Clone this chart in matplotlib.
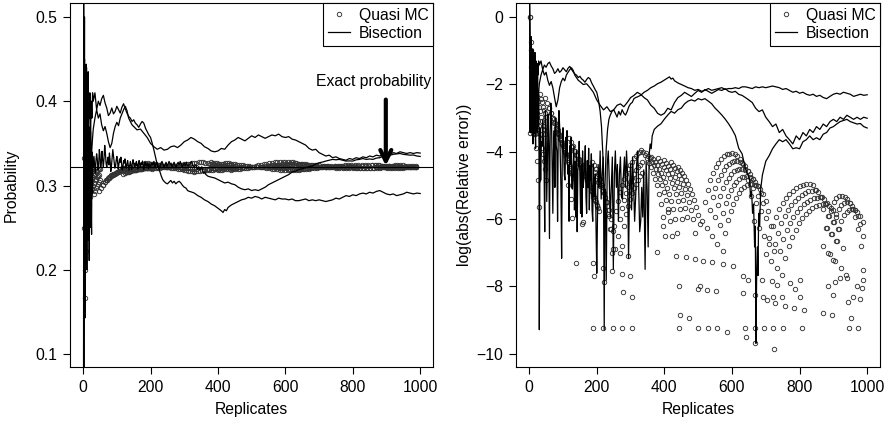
import numpy as np
import matplotlib
matplotlib.use("Agg")
import matplotlib.pyplot as plt
from matplotlib.lines import Line2D

plt.rcParams["font.family"] = ["Liberation Sans", "DejaVu Sans"]
plt.rcParams["font.size"] = 11.3

EXACT = 0.32255

# ---- bisection run A (high early, crosses down near 222, ends ~0.29)
bis_a_rep = ([1, 2, 3, 4, 5, 6, 7, 8, 9, 10, 11, 12, 13, 14, 15, 16, 17, 18,
              20, 22, 24, 26, 28, 30]
             + list(range(35, 206, 5))
             + [210, 214, 218, 220, 222, 224, 228, 232, 236, 240, 245]
             + list(range(250, 321, 5))
             + list(range(330, 411, 10))
             + [415, 420, 425, 430]
             + list(range(440, 1001, 10)))
bis_a_val = ([1.0, 0.5, 0.25, 0.45, 0.30, 0.40, 0.22, 0.43, 0.35, 0.44, 0.33, 0.42,
              0.34, 0.41, 0.435, 0.37, 0.40, 0.38, 0.41, 0.36, 0.40, 0.38, 0.41, 0.40]
             + [0.41, 0.39, 0.40, 0.395, 0.403, 0.407, 0.398, 0.392, 0.383, 0.386,
                0.392, 0.385, 0.388, 0.394, 0.39, 0.386, 0.393, 0.397, 0.391, 0.386,
                0.382, 0.38, 0.376, 0.378, 0.374, 0.372, 0.369, 0.373, 0.376, 0.374,
                0.368, 0.364, 0.36, 0.357, 0.35]
             + [0.342, 0.335, 0.328, 0.3245, 0.32258, 0.3205, 0.316, 0.311, 0.307,
                0.305, 0.303]
             + [0.302, 0.304, 0.306, 0.303, 0.305, 0.302, 0.304, 0.305, 0.303, 0.300,
                0.298, 0.297, 0.294, 0.293, 0.2925]
             + [0.291, 0.288, 0.286, 0.283, 0.281, 0.278, 0.276, 0.273, 0.27]
             + [0.268, 0.2715, 0.270, 0.274]
             + [0.277, 0.279, 0.281, 0.283, 0.284, 0.286, 0.285, 0.287, 0.286, 0.284,
                0.286, 0.285, 0.284, 0.283, 0.285, 0.284, 0.284, 0.283, 0.284, 0.282,
                0.282, 0.283, 0.284, 0.282, 0.283, 0.282, 0.283, 0.282, 0.281, 0.282,
                0.283, 0.285, 0.284, 0.286, 0.288, 0.287, 0.289, 0.288, 0.29, 0.291,
                0.29, 0.292, 0.291, 0.293, 0.294, 0.292, 0.29, 0.289, 0.29, 0.288,
                0.289, 0.29, 0.292, 0.291, 0.29, 0.291, 0.2905])

# ---- bisection run B (top line, ends ~0.338)
bis_b_rep = ([1, 2, 3, 4, 5, 6, 7, 8, 9, 10, 11, 12, 13, 14, 15, 16, 17, 18, 19, 20,
              22, 24, 26, 28, 30]
             + list(range(35, 151, 5))
             + list(range(160, 1001, 10)))
bis_b_val = ([0.0, 0.5, 0.333, 0.25, 0.4, 0.333, 0.286, 0.375, 0.333, 0.3, 0.364,
              0.333, 0.308, 0.357, 0.333, 0.3125, 0.353, 0.333, 0.316, 0.35, 0.364,
              0.333, 0.346, 0.357, 0.367]
             + [0.38, 0.39, 0.38, 0.385, 0.372, 0.365, 0.37, 0.362, 0.352, 0.345,
                0.35, 0.362, 0.37, 0.375, 0.371, 0.38, 0.385, 0.39, 0.394, 0.389,
                0.38, 0.376, 0.372, 0.37]
             + [0.366, 0.367, 0.362, 0.357, 0.350, 0.346, 0.343, 0.345, 0.342, 0.343,
                0.346, 0.347, 0.345, 0.348, 0.352, 0.354, 0.357, 0.355, 0.352, 0.35,
                0.346, 0.344, 0.341, 0.34, 0.341, 0.344, 0.343, 0.348, 0.352, 0.354,
                0.357, 0.355, 0.353, 0.356, 0.359, 0.357, 0.36, 0.358, 0.356, 0.358,
                0.36, 0.359, 0.361, 0.358, 0.357, 0.358, 0.355, 0.354, 0.352, 0.35,
                0.348, 0.344, 0.342, 0.343, 0.339, 0.337, 0.335, 0.336, 0.333, 0.334,
                0.332, 0.331, 0.33, 0.332, 0.331, 0.333, 0.332, 0.334, 0.333, 0.335,
                0.334, 0.336, 0.335, 0.337, 0.338, 0.337, 0.339, 0.338, 0.34, 0.339,
                0.338, 0.339, 0.338, 0.339, 0.3385])

# ---- bisection run C (hugs the exact value, dips below, crosses near 672)
bis_c_rep = (list(range(1, 31))
             + list(range(32, 201, 2))
             + [204, 207, 210, 213, 216, 219, 222, 225, 228, 231, 234, 237, 240, 243,
                246, 249, 252, 255, 258, 261, 264, 267, 270, 273, 276, 279, 282, 285,
                288, 291, 294, 297, 300, 303, 306, 309, 312, 315, 318, 321, 324, 327,
                330, 333, 336, 339, 343, 346, 349, 352, 355, 358, 361, 364, 367, 370]
             + list(range(380, 651, 10))
             + [652, 655, 658, 661, 664, 667, 669, 671, 673, 675, 677, 679, 682, 685, 690]
             + list(range(700, 1001, 10)))
bis_c_val = ([1.0, 0.0, 0.333, 0.5, 0.2, 0.143, 0.375, 0.25, 0.444, 0.3, 0.2, 0.385,
              0.267, 0.4, 0.3, 0.235, 0.37, 0.211, 0.35, 0.29, 0.25, 0.36, 0.3, 0.27,
              0.242, 0.34, 0.31, 0.29, 0.33, 0.32258]
             + [0.3346, 0.3251, 0.3146, 0.3296, 0.3376, 0.3311, 0.3186, 0.3231, 0.3426,
                0.3356, 0.3212, 0.3271, 0.3406, 0.3296, 0.3221, 0.3326, 0.3476, 0.3386,
                0.3266, 0.3216, 0.3286, 0.3336, 0.3246, 0.3386, 0.3296, 0.3166, 0.3233,
                0.3336, 0.3426, 0.3356, 0.3276, 0.3206, 0.3228, 0.3296, 0.3346, 0.3286,
                0.3196, 0.3251, 0.3316, 0.3276, 0.3336, 0.3256, 0.3186, 0.3218, 0.3296,
                0.3266, 0.3316, 0.3246, 0.3206, 0.3261, 0.3296, 0.3236, 0.3181, 0.3234,
                0.3286, 0.3231, 0.3191, 0.3266, 0.3306, 0.3256, 0.3216, 0.3266, 0.3234,
                0.3286, 0.3246, 0.3196, 0.3261, 0.3296, 0.3241, 0.3216, 0.3271, 0.3246,
                0.3291, 0.3236, 0.3186, 0.3251, 0.3281, 0.3236, 0.3233, 0.3266, 0.3241,
                0.3201, 0.3256, 0.3231, 0.32271]
             + [0.3266, 0.3246, 0.3286, 0.3211, 0.3256, 0.3276, 0.3236, 0.3206, 0.32268,
                0.3266, 0.3286, 0.3251, 0.3217, 0.3246, 0.3276, 0.32273, 0.3256, 0.3286,
                0.3246, 0.3266, 0.3218, 0.3256, 0.3276, 0.3241, 0.3211, 0.3256, 0.3276,
                0.3246, 0.3286, 0.3256, 0.3223, 0.3246, 0.3266, 0.3236, 0.3276, 0.3246,
                0.3233, 0.3241, 0.3266, 0.3286, 0.3246, 0.3231, 0.3218, 0.3246, 0.3234,
                0.3191, 0.32237, 0.3181, 0.3206, 0.3222, 0.3171, 0.3151, 0.3161, 0.3131,
                0.3121, 0.3111]
             + [0.3099, 0.309, 0.307, 0.305, 0.303, 0.304, 0.302, 0.301, 0.298, 0.296,
                0.295, 0.296, 0.294, 0.295, 0.294, 0.296, 0.298, 0.301, 0.303, 0.305,
                0.307, 0.309, 0.311, 0.313, 0.316, 0.317, 0.319, 0.3198]
             + [0.3200, 0.3210, 0.3207, 0.3216, 0.3213, 0.3222, 0.3219, 0.32253, 0.3224,
                0.3229, 0.3227, 0.3235, 0.3232, 0.3245, 0.3255]
             + [0.327, 0.3278, 0.329, 0.330, 0.331, 0.3305, 0.331, 0.330, 0.329, 0.3292,
                0.329, 0.3305, 0.331, 0.332, 0.331, 0.3315, 0.331, 0.3325, 0.333, 0.3345,
                0.335, 0.336, 0.337, 0.3375, 0.338, 0.337, 0.3365, 0.336, 0.3362, 0.335,
                0.3345])

# ---- quasi Monte Carlo: first 50 replicates as estimated probabilities
qmc_early_rep = list(range(1, 51))
qmc_early_prob = [0.0, 0.0, 0.333, 0.25, 0.2, 0.167, 0.286, 0.25, 0.222, 0.3,
                  0.273, 0.333, 0.308, 0.286, 0.333, 0.3125, 0.294, 0.278, 0.316, 0.3,
                  0.286, 0.318, 0.304, 0.333, 0.32, 0.308, 0.296, 0.3214, 0.31, 0.3,
                  0.29, 0.3125, 0.303, 0.294, 0.314, 0.306, 0.297, 0.316, 0.308, 0.3,
                  0.317, 0.31, 0.302, 0.318, 0.311, 0.304, 0.319, 0.3125, 0.306, 0.32]

# ---- quasi Monte Carlo later replicates: arcs of log relative error
# each arc: first replicate, replicate spacing, side of the exact value, values
qmc_arc_start = [48, 58, 68, 78,
                 118, 128, 138, 148,
                 185, 195, 205,
                 250, 262, 275,
                 330, 345, 360, 380, 400, 420, 440,
                 512, 527, 542, 557, 572,
                 700, 716, 732, 748,
                 869, 884, 899]
qmc_arc_step = [6, 6, 6, 6,
                6, 6, 6, 6,
                6, 6, 6,
                6, 6, 6,
                6, 6, 6, 6, 6, 6, 6,
                8, 8, 8, 8, 8,
                10, 10, 10, 10,
                8, 8, 8]
qmc_arc_sign = [-1, -1, -1, -1,
                -1, -1, -1, -1,
                1, 1, -1,
                -1, 1, -1,
                -1, 1, -1, 1, -1, 1, -1,
                1, -1, 1, -1, 1,
                -1, 1, -1, 1,
                -1, 1, -1]
qmc_arc_vals = [
    [-2.4, -2.55, -2.7, -2.86, -3.02, -3.18, -3.35, -3.52, -3.7, -3.88, -4.06],
    [-2.7, -2.85, -3.0, -3.16, -3.32, -3.48, -3.65, -3.82, -4.0, -4.18, -4.36],
    [-3.0, -3.15, -3.3, -3.46, -3.62, -3.78, -3.95, -4.12, -4.3, -4.48, -4.66],
    [-3.3, -3.45, -3.6, -3.76, -3.92, -4.08, -4.25, -4.42, -4.6, -4.78],
    [-3.6, -3.72, -3.84, -3.97, -4.1, -4.24, -4.38, -4.53, -4.68, -4.84, -5.0, -5.17, -5.35],
    [-3.85, -3.97, -4.09, -4.22, -4.35, -4.49, -4.63, -4.78, -4.93, -5.09, -5.25, -5.42, -5.6],
    [-4.1, -4.22, -4.34, -4.47, -4.6, -4.74, -4.88, -5.03, -5.18, -5.34, -5.5, -5.67],
    [-4.35, -4.47, -4.59, -4.72, -4.85, -4.99, -5.13, -5.28, -5.43, -5.59, -5.75],
    [-4.3, -4.4, -4.52, -4.66, -4.82, -5.0, -5.22, -5.5, -5.85, -6.3, -7.0],
    [-4.6, -4.72, -4.85, -5.0, -5.17, -5.37, -5.6, -5.9, -6.3, -6.9],
    [-4.9, -5.03, -5.17, -5.33, -5.5, -5.72, -6.0, -6.35, -6.9],
    [-6.2, -5.75, -5.45, -5.2, -5.0, -4.82, -4.66, -4.52, -4.4, -4.3, -4.2, -4.12,
     -4.05, -4.0],
    [-6.5, -6.0, -5.67, -5.42, -5.22, -5.05, -4.9, -4.77, -4.65, -4.55, -4.46, -4.38,
     -4.3],
    [-6.8, -6.2, -5.85, -5.6, -5.4, -5.23, -5.08, -4.95, -4.83, -4.72, -4.63],
    [-3.95, -4.02, -4.1, -4.2, -4.32, -4.46, -4.62, -4.8, -5.0, -5.25, -5.55, -5.95, -6.5],
    [-4.05, -4.12, -4.2, -4.29, -4.4, -4.52, -4.66, -4.82, -5.0, -5.2, -5.43, -5.7,
     -6.05, -6.5],
    [-4.15, -4.22, -4.3, -4.4, -4.5, -4.62, -4.75, -4.9, -5.07, -5.25, -5.45, -5.7,
     -6.0, -6.4],
    [-4.2, -4.27, -4.35, -4.44, -4.54, -4.65, -4.78, -4.92, -5.08, -5.26, -5.46, -5.7, -6.0],
    [-4.25, -4.33, -4.42, -4.52, -4.63, -4.75, -4.9, -5.05, -5.23, -5.43, -5.66, -5.95],
    [-4.3, -4.38, -4.47, -4.57, -4.68, -4.8, -4.95, -5.1, -5.28, -5.48, -5.72, -6.0, -6.4],
    [-4.45, -4.53, -4.62, -4.72, -4.83, -4.95, -5.1, -5.25, -5.43, -5.63, -5.87, -6.15],
    [-6.05, -5.5, -5.13, -4.85, -4.63, -4.46, -4.32, -4.21, -4.13, -4.08, -4.06, -4.05,
     -4.07, -4.12, -4.21, -4.35, -4.55, -4.85, -5.3, -6.05],
    [-6.27, -5.72, -5.35, -5.07, -4.85, -4.68, -4.54, -4.43, -4.35, -4.3, -4.28, -4.27,
     -4.29, -4.34, -4.43, -4.57, -4.77, -5.07, -5.52, -6.27],
    [-6.5, -5.95, -5.58, -5.3, -5.08, -4.91, -4.77, -4.66, -4.58, -4.53, -4.51, -4.5,
     -4.52, -4.57, -4.66, -4.8, -5.0, -5.3, -5.75, -6.5],
    [-6.73, -6.18, -5.81, -5.53, -5.31, -5.14, -5.0, -4.89, -4.81, -4.76, -4.74, -4.73,
     -4.75, -4.8, -4.89, -5.03, -5.23, -5.53, -5.98, -6.73],
    [-6.96, -6.41, -6.04, -5.76, -5.54, -5.37, -5.23, -5.12, -5.04, -4.99, -4.97, -4.96,
     -4.98, -5.03, -5.12, -5.26, -5.46, -5.76, -6.21, -6.96],
    [-7.05, -6.55, -6.2, -5.93, -5.71, -5.53, -5.38, -5.26, -5.16, -5.08, -5.02, -4.98,
     -4.96, -4.95, -5.0, -5.13, -5.35, -5.7, -6.25, -7.05],
    [-7.25, -6.75, -6.4, -6.13, -5.91, -5.73, -5.58, -5.46, -5.36, -5.28, -5.22, -5.18,
     -5.16, -5.15, -5.2, -5.33, -5.55, -5.9, -6.45, -7.25],
    [-7.45, -6.95, -6.6, -6.33, -6.11, -5.93, -5.78, -5.66, -5.56, -5.48, -5.42, -5.38,
     -5.36, -5.35, -5.4, -5.53, -5.75, -6.1, -6.65, -7.45],
    [-7.65, -7.15, -6.8, -6.53, -6.31, -6.13, -5.98, -5.86, -5.76, -5.68, -5.62, -5.58,
     -5.56, -5.55, -5.6, -5.73, -5.95, -6.3, -6.85, -7.65],
    [-6.8, -6.25, -5.9, -5.66, -5.49, -5.38, -5.32, -5.3, -5.33, -5.4, -5.52, -5.7,
     -5.95, -6.3, -6.8, -7.5],
    [-7.0, -6.45, -6.1, -5.86, -5.69, -5.58, -5.52, -5.5, -5.53, -5.6, -5.72, -5.9,
     -6.15, -6.5],
    [-7.2, -6.65, -6.3, -6.06, -5.89, -5.78, -5.72, -5.7, -5.73, -5.8, -5.92, -6.1],
]

# ---- quasi Monte Carlo isolated points (replicate, log relative error)
qmc_pts_rep = [115, 124, 127, 139, 157, 160, 189, 192, 219, 222, 245, 269, 275, 278,
               292, 298, 304, 378, 396, 410, 435, 442, 447, 464, 474, 491, 500, 506,
               515, 526, 541, 553, 574, 603, 633, 633, 642, 648, 669, 669, 689, 692,
               704, 719, 722, 725, 728, 734, 748, 757, 772, 784, 787, 802, 802, 814,
               870, 884, 896, 899, 905, 920, 941, 944, 953, 959, 970, 979, 985, 988,
               190, 219, 248, 276, 305, 444, 500, 530, 556, 585, 639, 669, 695, 722,
               751, 808, 947, 974]
qmc_pts_err = [-5.0, -5.4, -5.97, -7.3, -6.14, -6.1, -7.3, -7.7, -7.45, -7.86, -7.54,
               -7.0, -7.63, -8.16, -7.1, -7.7, -8.3, -6.97, -6.2, -5.8, -7.1, -8.0,
               -8.85, -7.13, -8.93, -7.18, -8.06, -8.0, -7.24, -8.1, -7.27, -8.13,
               -7.33, -7.39, -7.7, -8.2, -9.5, -7.8, -8.25, -9.67, -7.8, -8.3, -8.4,
               -7.83, -8.3, -9.85, -8.5, -7.95, -8.3, -8.57, -7.9, -8.64, -8.06, -8.3,
               -7.8, -8.7, -8.8, -8.0, -8.85, -8.25, -7.86, -7.75, -7.75, -8.46, -8.93,
               -8.3, -8.0, -8.37, -8.04, -7.8,
               -9.23, -9.23, -9.23, -9.23, -9.23, -9.23, -9.23, -9.23, -9.23, -9.35,
               -9.23, -9.23, -9.23, -9.23, -9.23, -9.23, -9.23, -9.23]


def log_rel_err(p):
    p = np.asarray(p, dtype=float)
    return np.log(np.abs(p - EXACT) / EXACT)


# assemble the quasi MC series
qmc_rep = list(qmc_early_rep)
qmc_err = list(log_rel_err(qmc_early_prob))
qmc_prob = list(qmc_early_prob)
for start, step, sgn, vals in zip(qmc_arc_start, qmc_arc_step, qmc_arc_sign, qmc_arc_vals):
    for i, e in enumerate(vals):
        qmc_rep.append(start + step * i)
        qmc_err.append(e)
        qmc_prob.append(EXACT * (1 + sgn * np.exp(e)))
for r, e in zip(qmc_pts_rep, qmc_pts_err):
    qmc_rep.append(r)
    qmc_err.append(e)
    qmc_prob.append(EXACT * (1 - np.exp(e)))

runs = [(bis_a_rep, bis_a_val), (bis_b_rep, bis_b_val), (bis_c_rep, bis_c_val)]

fig = plt.figure(figsize=(8.89, 4.25), dpi=100)
ax1 = fig.add_axes([70 / 889, 58 / 425, 363 / 889, 364 / 425])
ax2 = fig.add_axes([516 / 889, 58 / 425, 364 / 889, 364 / 425])

pt_style = dict(ls="none", marker="o", ms=3.2, mfc="none", mec="#333333", mew=0.65)

# left: estimated probability
ax1.plot(qmc_rep, qmc_prob, **pt_style)
for r, v in runs:
    ax1.plot(r, v, color="black", lw=0.9)
ax1.axhline(EXACT, color="black", lw=0.8)
ax1.text(862, 0.4234, "Exact probability", ha="center", va="center")
ax1.annotate("", xy=(898, EXACT + 0.001), xytext=(898, 0.402),
             arrowprops=dict(arrowstyle="->,head_length=0.7,head_width=0.35",
                             lw=3, color="black", shrinkA=0, shrinkB=0))
ax1.set_ylim(0.0846, 0.5166)
ax1.set_yticks([0.1, 0.2, 0.3, 0.4, 0.5])
ax1.set_ylabel("Probability")
ax1.yaxis.set_label_coords(-0.14, 0.5)

# right: log relative error
ax2.plot(qmc_rep, qmc_err, **pt_style)
for r, v in runs:
    ax2.plot(r, log_rel_err(v), color="black", lw=0.9)
ax2.set_ylim(-10.39, 0.415)
ax2.set_yticks([0, -2, -4, -6, -8, -10])
ax2.set_ylabel("log(abs(Relative error))")
ax2.yaxis.set_label_coords(-0.121, 0.5)

handles = [Line2D([], [], **pt_style), Line2D([], [], color="black", lw=0.9)]
for ax in (ax1, ax2):
    ax.set_xlim(-39, 1038)
    ax.set_xticks([0, 200, 400, 600, 800, 1000])
    ax.tick_params(direction="out", length=5, width=0.8, pad=4, labelsize=11.3)
    for s in ax.spines.values():
        s.set_linewidth(0.8)
    ax.set_xlabel("Replicates")
    ax.xaxis.set_label_coords(0.5, -0.095)
    leg = ax.legend(handles, ["Quasi MC", "Bisection"], loc="upper right",
                    borderaxespad=0, fancybox=False, edgecolor="black", framealpha=1,
                    handlelength=1.4, handletextpad=0.55, borderpad=0.3,
                    labelspacing=0.2, fontsize=11.3)
    leg.get_frame().set_linewidth(0.8)

fig.savefig("out.png", dpi=100)
